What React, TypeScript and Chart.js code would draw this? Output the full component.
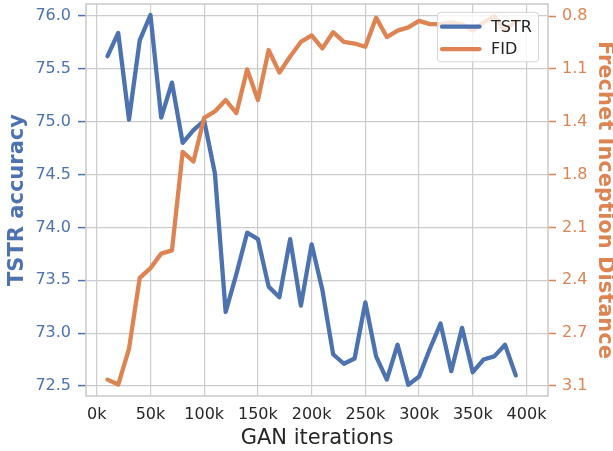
import { useEffect, useRef } from 'react';
import { Chart, registerables } from 'chart.js';

Chart.register(...registerables);

// GAN training checkpoints (iterations)
const iterations = [
  10000, 20000, 30000, 40000, 50000, 60000, 70000, 80000, 90000, 100000,
  110000, 120000, 130000, 140000, 150000, 160000, 170000, 180000, 190000, 200000,
  210000, 220000, 230000, 240000, 250000, 260000, 270000, 280000, 290000, 300000,
  310000, 320000, 330000, 340000, 350000, 360000, 370000, 380000, 390000,
];

// Train-on-synthetic, test-on-real accuracy at each checkpoint
const tstrAccuracy = [
  75.62, 75.84, 75.02, 75.77, 76.01, 75.04, 75.37, 74.8, 74.92, 75.01,
  74.51, 73.2, 73.56, 73.95, 73.89, 73.44, 73.34, 73.89, 73.26, 73.84,
  73.41, 72.8, 72.71, 72.76, 73.29, 72.78, 72.56, 72.89, 72.51, 72.59,
  72.85, 73.09, 72.64, 73.05, 72.63, 72.75, 72.78, 72.89, 72.6,
];

// Frechet Inception Distance at each checkpoint
const fidScores = [
  3.03, 3.06, 2.84, 2.4, 2.34, 2.25, 2.23, 1.62, 1.68, 1.41,
  1.37, 1.3, 1.38, 1.11, 1.3, 0.99, 1.13, 1.03, 0.94, 0.9,
  0.98, 0.88, 0.94, 0.95, 0.97, 0.79, 0.91, 0.87, 0.85, 0.81,
  0.83, 0.83, 0.82, 0.83, 0.87, 0.82, 0.78, 0.87, 0.81,
];

const iterationTicks = [0, 50000, 100000, 150000, 200000, 250000, 300000, 350000, 400000];
const tstrTicks = [72.5, 73.0, 73.5, 74.0, 74.5, 75.0, 75.5, 76.0];
// FID ticks sit on the same gridlines as the accuracy ticks (FID axis is reversed)
const fidTicks = [3.069, 2.742, 2.415, 2.088, 1.761, 1.434, 1.107, 0.78];

const BLUE = '#4c72b0';
const ORANGE = '#dd8452';
const TEXT = '#262626';
const GRID = '#cccccc';
const FAMILY = "'DejaVu Sans', sans-serif";

const TSTR_MIN = 72.405;
const TSTR_MAX = 76.114;

// Linear map from the accuracy axis onto the FID axis, so both tick sets align
const fidAt = (t: number) => {
  const t0 = tstrTicks[0];
  const t1 = tstrTicks[tstrTicks.length - 1];
  const f0 = fidTicks[0];
  const f1 = fidTicks[fidTicks.length - 1];
  return f0 + ((t - t0) * (f1 - f0)) / (t1 - t0);
};

// Fixed scale boxes; label overhang padding is dropped so the plot box is set by the sizes alone
const fixSize = (size: { width?: number; height?: number }) => (s: any) => {
  if (size.width !== undefined) s.width = size.width;
  if (size.height !== undefined) s.height = size.height;
  s.paddingTop = 0;
  s.paddingBottom = 0;
  s.paddingLeft = 0;
  s.paddingRight = 0;
};

const framePlugin = {
  id: 'axesFrame',
  afterDatasetsDraw(chart: any) {
    const { ctx, chartArea } = chart;
    ctx.save();
    ctx.strokeStyle = GRID;
    ctx.lineWidth = 1.6;
    ctx.strokeRect(
      chartArea.left,
      chartArea.top,
      chartArea.right - chartArea.left,
      chartArea.bottom - chartArea.top
    );
    ctx.restore();
  },
};

const legendPlugin = {
  id: 'innerLegend',
  afterDraw(chart: any) {
    const { ctx, chartArea } = chart;
    const w = 101;
    const h = 49.5;
    const x = chartArea.right - 9.5 - w;
    const y = chartArea.top + 8.3;
    ctx.save();
    ctx.beginPath();
    ctx.roundRect(x, y, w, h, 3);
    ctx.fillStyle = 'rgba(255,255,255,0.8)';
    ctx.fill();
    ctx.strokeStyle = 'rgba(204,204,204,0.8)';
    ctx.lineWidth = 1;
    ctx.stroke();
    ctx.font = `16px ${FAMILY}`;
    ctx.textBaseline = 'middle';
    ctx.textAlign = 'left';
    chart.data.datasets.forEach((ds: any, i: number) => {
      const cy = y + 14.4 + i * 22.4;
      ctx.beginPath();
      ctx.moveTo(x + 4.5, cy);
      ctx.lineTo(x + 42, cy);
      ctx.strokeStyle = ds.borderColor;
      ctx.lineWidth = 4.3;
      ctx.lineCap = 'round';
      ctx.stroke();
      ctx.fillStyle = TEXT;
      ctx.fillText(ds.label, x + 53.5, cy + 1);
    });
    ctx.restore();
  },
};

export default function App() {
  const canvasRef = useRef<HTMLCanvasElement | null>(null);

  useEffect(() => {
    document.body.style.margin = '0';
    const canvas = canvasRef.current;
    if (!canvas) return;

    const chart = new Chart(canvas, {
      type: 'line',
      data: {
        datasets: [
          {
            label: 'TSTR',
            data: iterations.map((it, i) => ({ x: it, y: tstrAccuracy[i] })),
            yAxisID: 'y',
            borderColor: BLUE,
            backgroundColor: BLUE,
            borderWidth: 4.3,
            pointRadius: 0,
            borderJoinStyle: 'round',
            borderCapStyle: 'round',
            tension: 0,
            order: 2,
          },
          {
            label: 'FID',
            data: iterations.map((it, i) => ({ x: it, y: fidScores[i] })),
            yAxisID: 'y2',
            borderColor: ORANGE,
            backgroundColor: ORANGE,
            borderWidth: 4.3,
            pointRadius: 0,
            borderJoinStyle: 'round',
            borderCapStyle: 'round',
            tension: 0,
            order: 1,
          },
        ],
      },
      options: {
        animation: false,
        responsive: false,
        devicePixelRatio: 1,
        layout: { padding: { top: 4, left: 0, right: 0, bottom: 0 } },
        plugins: {
          legend: { display: false },
          tooltip: { enabled: false },
        },
        scales: {
          x: {
            type: 'linear',
            min: -10000,
            max: 420000,
            afterBuildTicks: (s: any) => {
              s.ticks = iterationTicks.map((v) => ({ value: v }));
            },
            afterFit: fixSize({ height: 55 }),
            grid: { color: GRID, lineWidth: 1.2, drawTicks: false },
            border: { display: false },
            ticks: {
              color: TEXT,
              font: { size: 16, family: FAMILY },
              padding: 9,
              maxRotation: 0,
              autoSkip: false,
              callback: (v: any) => `${Number(v) / 1000}k`,
            },
            title: {
              display: true,
              text: 'GAN iterations',
              color: TEXT,
              font: { size: 21, family: FAMILY },
              padding: { top: 0, bottom: 0 },
            },
          },
          y: {
            type: 'linear',
            position: 'left',
            min: TSTR_MIN,
            max: TSTR_MAX,
            afterBuildTicks: (s: any) => {
              s.ticks = tstrTicks.map((v) => ({ value: v }));
            },
            afterFit: fixSize({ width: 86 }),
            grid: { color: GRID, lineWidth: 1.2, tickColor: BLUE, tickLength: 8, tickWidth: 1.5 },
            border: { display: false },
            ticks: {
              color: BLUE,
              font: { size: 16, family: FAMILY },
              padding: 7,
              callback: (v: any) => Number(v).toFixed(1),
            },
            title: {
              display: true,
              text: 'TSTR accuracy',
              color: BLUE,
              font: { size: 21, weight: 'bold', family: FAMILY },
              padding: { top: 5, bottom: 0 },
            },
          },
          y2: {
            type: 'linear',
            position: 'right',
            reverse: true,
            min: fidAt(TSTR_MAX),
            max: fidAt(TSTR_MIN),
            afterBuildTicks: (s: any) => {
              s.ticks = fidTicks.map((v) => ({ value: v }));
            },
            afterFit: fixSize({ width: 65 }),
            grid: {
              drawOnChartArea: false,
              tickColor: ORANGE,
              tickLength: 8,
              tickWidth: 1.5,
            },
            border: { display: false },
            ticks: {
              color: ORANGE,
              font: { size: 16, family: FAMILY },
              padding: 6,
              callback: (v: any) => Number(v).toFixed(1),
            },
            title: {
              display: true,
              text: 'Frechet Inception Distance',
              color: ORANGE,
              font: { size: 21, weight: 'bold', family: FAMILY },
              padding: { top: -4, bottom: 0 },
            },
          },
        },
      },
      plugins: [framePlugin, legendPlugin],
    } as any);

    return () => chart.destroy();
  }, []);

  return (
    <div style={{ width: 613, height: 451 }}>
      <canvas ref={canvasRef} width={613} height={451} />
    </div>
  );
}
